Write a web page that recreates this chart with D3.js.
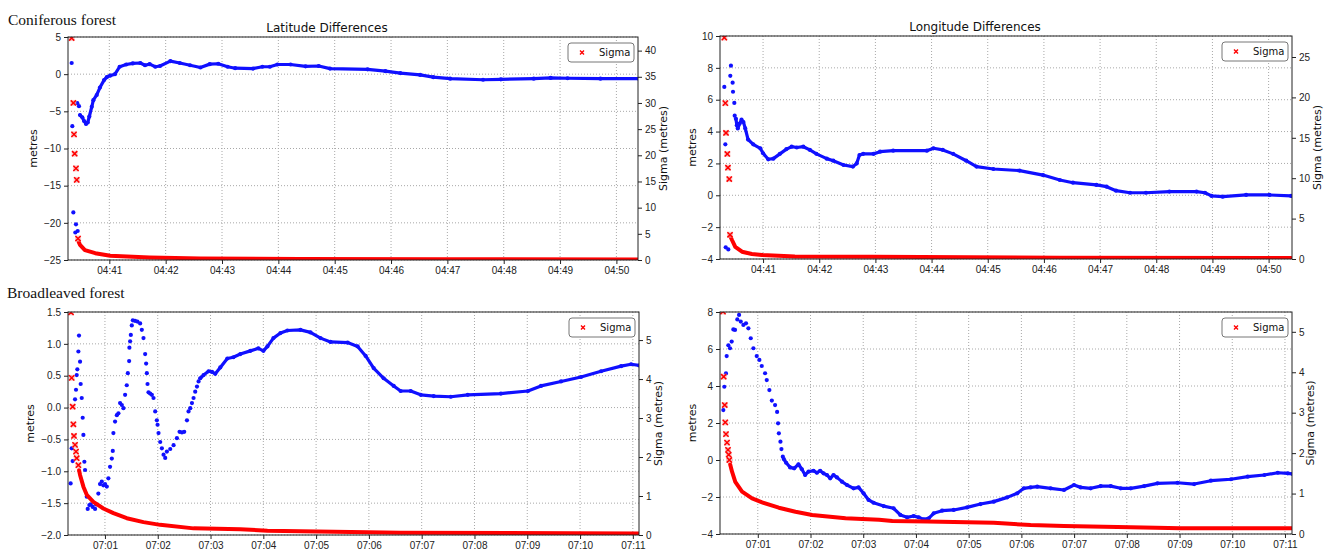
<!DOCTYPE html>
<meta charset="utf-8">
<style>
body { margin: 0; background: #fff; }
svg { font-family: "DejaVu Sans", sans-serif; }
.grid line { stroke: #a8a8a8; stroke-width: 1px; stroke-dasharray: 1,2; }
.axis text { font-size: 10px; fill: #222; }
.axis line { stroke: #222; }
.axis path { display: none; }
.frame { fill: none; stroke: #222; stroke-width: 1px; }
.title { font-size: 12px; fill: #111; }
.label { font-size: 11px; fill: #111; }
.section { font-family: "Liberation Serif", serif; font-size: 15.5px; fill: #111; }
.legend rect { fill: #fff; stroke: #777; stroke-width: 1px; }
.legend text { font-size: 10px; fill: #111; }
</style>
<body>
<script src="https://d3js.org/d3.v7.min.js"></script>
<script>

// --- data: [seconds after axis start, value] ---

// Coniferous forest, latitude (metres) and sigma (metres)
var latConBlueDots = [[3.9,1.5],[4.6,-7.0],[5.7,-18.6],[7.8,-21.3],[8.5,-20.2],[10.3,-21.1],
  [9.9,-3.9],[11.7,-4.3]];
var latConBlueTrace = [[12.8,-5.5],[15.2,-5.8],[17.1,-6.3],[19.2,-6.7],[21,-6.5],[22.7,-5.7],
  [25.3,-4.4],[27,-3.5],[30.6,-2.8],[34,-1.8],[38.4,-0.8],[41.3,-0.4],[44.8,-0.2],[50,0.0],
  [55,1.0],[62,1.3],[69,1.45],[77,1.5],[82,1.2],[87,1.35],[93,1.0],[98,1.1],[109,1.75],
  [119,1.5],[130,1.2],[141,0.9],[151,1.35],[160,1.4],[170,1.0],[178,0.8],[197,0.75],
  [207,1.0],[215,1.0],[223,1.3],[237,1.3],[253,1.05],[267,1.1],[279,0.75],[319,0.65],
  [338,0.4],[354,0.15],[375,-0.1],[389,-0.4],[407,-0.6],[442,-0.75],[461,-0.7],[496,-0.6],
  [514,-0.5],[532,-0.55],[567,-0.6],[608,-0.6]];
var latConSigmaDots = [[3.9,42.4],[5.7,30.0],[6.4,24.0],[7.1,20.3],[8.5,17.5],[9.3,15.3],
  [10.7,4.1]];
var latConSigmaTrace = [[11.5,3.4],[12.8,2.9],[18,1.9],[29,1.3],[45,0.8],[87,0.5],[141,0.3],
  [247,0.2],[400,0.15],[608,0.1]];

// Coniferous forest, longitude
var lonConBlueDots = [[4.6,6.8],[5.7,3.2],[6.1,-3.27],[8.9,-3.4],[11,7.5],[11.7,8.14],
  [13.5,7.07],[13.9,6.5],[15.3,5.8],[15.7,5.0]];
var lonConBlueTrace = [[17,4.8],[18,4.4],[19,4.2],[21,4.5],[23,4.75],[25,4.6],[27,4.2],
  [30,3.5],[35.5,3.2],[43,2.95],[46,2.64],[51.5,2.26],[57,2.3],[64,2.6],[71,2.9],[76.5,3.05],
  [82,3.0],[89,3.05],[96,2.85],[103,2.6],[114,2.3],[121,2.17],[132,1.9],[142,1.8],[146,2.0],
  [149,2.53],[153,2.6],[164,2.6],[171,2.74],[185,2.8],[221,2.8],[228,2.95],[238,2.85],
  [249,2.6],[263,2.17],[274,1.8],[292,1.65],[320,1.55],[345,1.27],[363,0.96],[377,0.79],
  [402,0.65],[413,0.54],[423,0.29],[438,0.16],[455,0.16],[480,0.23],[509,0.23],[518,0.16],
  [525,-0.04],[537,-0.09],[562,0.02],[587,0.02],[610,-0.04]];
var lonConSigmaDots = [[4.6,27.4],[5.7,19.3],[6.4,15.6],[7.8,13.0],[8.5,11.3],[9.9,9.9],
  [10.7,3.0]];
var lonConSigmaTrace = [[11.5,2.7],[12.8,2.35],[16.3,1.5],[23.5,0.9],[34,0.62],[44.8,0.5],
  [80,0.3],[163,0.28],[363,0.16],[610,0.12]];

// Broadleaved forest, latitude
var latBroBlueDots = [[3.0,-1.19],[4.2,-0.64],[5.3,-0.84],[8.0,0.13],[9.1,0.28],[9.9,0.51],
  [10.6,0.6],[11.8,0.88],[12.5,1.13],[13.7,0.72],[14.4,0.37],[15.6,0.15],[16.7,-0.16],
  [17.5,-0.43],[18.6,-0.85],[19.4,-0.98],[21.3,-1.4],[22.4,-1.59],[24.3,-1.53],[25.8,-1.52],
  [28.1,-1.56],[30.8,-1.59],[31.9,-1.52],[34.5,-1.35],[36.4,-1.2],[38.4,-1.16],[40.2,-1.22],
  [42.1,-1.2],[44.1,-1.24],[45.9,-1.11],[47.8,-0.93],[49.8,-0.8],[50.9,-0.68],[51.6,-0.4],
  [53.5,-0.22],[55.5,-0.12],[57.3,-0.09],[59.2,0.07],[61.2,0.04],[63,-0.01],[64.9,0.2],
  [66.8,0.35],[68,0.54],[69.5,0.73],[69.8,0.94],[70.6,1.04],[71.4,1.14],[72.5,1.29],
  [73.7,1.37],[76.3,1.36],[78.9,1.35],[82,1.32],[83.9,1.22],[85.8,1.09],[87.7,0.84],
  [88.8,0.69],[89.6,0.54],[90.4,0.37],[91.5,0.24],[93.4,0.22],[95.3,0.2],[97.2,0.15],
  [99.1,-0.06],[101,-0.2],[101.8,-0.27],[102.9,-0.4],[104.8,-0.54],[106.7,-0.64],
  [108.6,-0.74],[110.5,-0.79],[112.4,-0.69],[116.2,-0.65],[120,-0.59],[123.8,-0.48],
  [126.8,-0.38],[129.5,-0.39],[132.1,-0.38],[135.2,-0.2],[137,-0.06],[139,-0.01],
  [140.9,0.07],[142.7,0.15],[144.6,0.25],[146.6,0.33],[148.4,0.41]];
var latBroBlueTrace = [[150.3,0.46],[154.1,0.51],[159.8,0.57],[163.7,0.56],[167.4,0.53],
  [173.1,0.63],[181.1,0.77],[187.9,0.79],[195.9,0.84],[207.3,0.89],[216.4,0.93],[222.1,0.89],
  [226.7,0.96],[233.5,1.09],[241.5,1.17],[249.4,1.21],[264.2,1.22],[275.6,1.18],[287,1.09],
  [298.4,1.03],[317.8,1.02],[329.2,0.96],[338.3,0.81],[347.4,0.62],[358.8,0.46],[370.2,0.34],
  [378.1,0.26],[389.5,0.26],[400.9,0.2],[415.7,0.18],[435.1,0.17],[454.4,0.2],[492,0.22],
  [522.8,0.26],[537.6,0.34],[560.4,0.41],[583.1,0.48],[605.9,0.57],[628.7,0.65],[640,0.68],
  [649.2,0.66]];
var latBroSigmaDots = [[3.4,5.71],[4.2,4.03],[5.3,3.29],[6.1,2.84],[6.8,2.54],[8,2.31],
  [9.1,2.14],[9.9,1.97],[11.8,1.79]];
var latBroSigmaTrace = [[12.6,1.66],[13.7,1.54],[17.5,1.24],[21.3,1.03],[28.8,0.85],[40.2,0.68],
  [51.6,0.56],[66.8,0.43],[85.8,0.33],[104.8,0.26],[142.7,0.17],[195.9,0.15],[226.7,0.11],
  [378.1,0.06],[649,0.04]];

// Broadleaved forest, longitude
var lonBroBlueDots = [[3.8,2.7],[4.9,3.96],[6.8,4.68],[7.6,5.62],[9.5,6.2],[11.4,6.04],
  [13.3,6.4],[15.2,7.06],[17.1,7.03],[19.7,7.6],[21.7,7.84],[23.6,7.48],[26.6,7.3],
  [29.6,7.39],[32.3,7.12],[35,6.58],[38,6.04],[41.8,5.62],[44.8,5.41],[47.5,5.08],
  [51.3,4.69],[53.2,4.32],[56.2,3.78],[59,3.21],[62.7,2.97],[65,2.6],[66.1,1.98],[67,1.44],
  [68.8,0.99],[69.9,0.59],[71.5,0.18]];
var lonBroBlueTrace = [[72.6,0.05],[75.3,-0.15],[79.8,-0.4],[84.4,-0.45],[89.3,-0.23],
  [93.2,-0.5],[96.9,-0.81],[100.7,-0.63],[106.4,-0.58],[110.3,-0.69],[114,-0.58],
  [117.8,-0.72],[121.7,-0.81],[125.4,-0.99],[129.2,-0.81],[133.1,-0.94],[138.8,-1.17],
  [144.5,-1.35],[152,-1.53],[157.7,-1.48],[163.4,-1.8],[169.1,-2.16],[174.8,-2.31],
  [186.2,-2.49],[197.6,-2.61],[205.2,-2.97],[212.9,-3.1],[220.4,-3.03],[226.1,-3.1],
  [231.8,-3.21],[237.5,-3.15],[243.2,-2.88],[252.8,-2.74],[266,-2.7],[281.3,-2.56],
  [296.5,-2.38],[311.6,-2.25],[326.9,-2.02],[338.3,-1.8],[345.8,-1.53],[353.5,-1.48],
  [361.1,-1.44],[376.3,-1.53],[391.5,-1.62],[402.9,-1.35],[410.5,-1.48],[421.9,-1.53],
  [433.3,-1.41],[444.7,-1.41],[456.1,-1.53],[467.5,-1.53],[482.7,-1.41],[497.9,-1.26],
  [520.7,-1.23],[539.7,-1.3],[558.7,-1.12],[581.5,-1.04],[600.6,-0.9],[619.5,-0.81],
  [634.8,-0.69],[646.2,-0.72],[651.9,-0.76]];
var lonBroSigmaDots = [[3.4,5.5],[4.2,3.89],[5.4,3.19],[6,2.76],[6.8,2.47],[8,2.26],
  [9.1,2.08],[9.9,1.96],[10.6,1.83]];
var lonBroSigmaTrace = [[11.6,1.72],[13.7,1.54],[17.4,1.29],[25.1,1.05],[36.5,0.88],[47.9,0.78],
  [66.9,0.65],[85.9,0.55],[104.9,0.47],[142.9,0.39],[181,0.35],[196.1,0.32],[235.7,0.31],
  [311.6,0.28],[353.5,0.22],[391.5,0.2],[467.5,0.17],[524.5,0.14],[651.9,0.14]];

// tick values
var latConTicks = [-25, -20, -15, -10, -5, 0, 5];
var latConSigmaTicks = [0, 5, 10, 15, 20, 25, 30, 35, 40];
var lonConTicks = [-4, -2, 0, 2, 4, 6, 8, 10];
var lonConSigmaTicks = [0, 5, 10, 15, 20, 25];
var latBroTicks = [-2.0, -1.5, -1.0, -0.5, 0.0, 0.5, 1.0, 1.5];
var latBroSigmaTicks = [0, 1, 2, 3, 4, 5];
var lonBroTicks = [-4, -2, 0, 2, 4, 6, 8];
var lonBroSigmaTicks = [0, 1, 2, 3, 4, 5];

var parseTime = d3.timeParse("%H:%M:%S");

var panels = [
  { left: 68, top: 37, width: 570, height: 223, title: "Latitude Differences", titleX: 327,
    xDomain: ["04:40:16", "04:50:23"], yDomain: [-25, 5], sDomain: [0, 42.6],
    yTicks: latConTicks, sTicks: latConSigmaTicks, yFormat: "d",
    yLabelX: 33, sLabelX: 663,
    blueDots: latConBlueDots, blueTrace: latConBlueTrace,
    sigmaDots: latConSigmaDots, sigmaTrace: latConSigmaTrace },
  { left: 720, top: 36, width: 572, height: 223, title: "Longitude Differences", titleX: 975,
    xDomain: ["04:40:14", "04:50:25"], yDomain: [-4, 10], sDomain: [0, 27.6],
    yTicks: lonConTicks, sTicks: lonConSigmaTicks, yFormat: "d",
    yLabelX: 692, sLabelX: 1317,
    blueDots: lonConBlueDots, blueTrace: lonConBlueTrace,
    sigmaDots: lonConSigmaDots, sigmaTrace: lonConSigmaTrace },
  { left: 68, top: 312, width: 571, height: 223, title: null,
    xDomain: ["07:00:18", "07:11:07"], yDomain: [-2, 1.5], sDomain: [0, 5.72],
    yTicks: latBroTicks, sTicks: latBroSigmaTicks, yFormat: ".1f",
    yLabelX: 30, sLabelX: 658,
    blueDots: latBroBlueDots, blueTrace: latBroBlueTrace,
    sigmaDots: latBroSigmaDots, sigmaTrace: latBroSigmaTrace },
  { left: 720, top: 312, width: 572, height: 222, title: null,
    xDomain: ["07:00:17", "07:11:08"], yDomain: [-4, 8], sDomain: [0, 5.49],
    yTicks: lonBroTicks, sTicks: lonBroSigmaTicks, yFormat: "d",
    yLabelX: 692, sLabelX: 1310,
    blueDots: lonBroBlueDots, blueTrace: lonBroBlueTrace,
    sigmaDots: lonBroSigmaDots, sigmaTrace: lonBroSigmaTrace }
];

var svg = d3.select("body").append("svg")
    .attr("width", 1331)
    .attr("height", 552);

svg.append("text").attr("class", "section").attr("x", 8).attr("y", 25).text("Coniferous forest");
svg.append("text").attr("class", "section").attr("x", 7).attr("y", 298).text("Broadleaved forest");

var xMark = "M-2.6,-2.6L2.6,2.6M-2.6,2.6L2.6,-2.6";

panels.forEach(function(p, i) {
  var t0 = parseTime(p.xDomain[0]),
      t1 = parseTime(p.xDomain[1]);
  var x = d3.scaleTime().domain([t0, t1]).range([0, p.width]);
  var y = d3.scaleLinear().domain(p.yDomain).range([p.height, 0]);
  var s = d3.scaleLinear().domain(p.sDomain).range([p.height, 0]);
  var px = function(d) { return x(new Date(t0.getTime() + d[0] * 1000)); };

  var g = svg.append("g").attr("transform", "translate(" + p.left + "," + p.top + ")");

  g.append("clipPath").attr("id", "clip" + i)
    .append("rect").attr("width", p.width).attr("height", p.height);

  // grid
  var grid = g.append("g").attr("class", "grid");
  grid.selectAll(".vx").data(x.ticks(d3.timeMinute.every(1))).enter().append("line")
      .attr("x1", function(d) { return x(d); }).attr("x2", function(d) { return x(d); })
      .attr("y1", 0).attr("y2", p.height);
  grid.selectAll(".hy").data(p.yTicks).enter().append("line")
      .attr("x1", 0).attr("x2", p.width)
      .attr("y1", function(d) { return y(d); }).attr("y2", function(d) { return y(d); });

  var plot = g.append("g").attr("clip-path", "url(#clip" + i + ")");

  // metres series (left axis)
  plot.append("path")
      .datum(p.blueTrace)
      .attr("fill", "none")
      .attr("stroke", "#1010ff")
      .attr("stroke-width", 3.2)
      .attr("stroke-linejoin", "round")
      .attr("stroke-linecap", "round")
      .attr("d", d3.line().x(px).y(function(d) { return y(d[1]); }));
  plot.selectAll(".bdot").data(p.blueDots.concat(p.blueTrace)).enter().append("circle")
      .attr("cx", px)
      .attr("cy", function(d) { return y(d[1]); })
      .attr("r", 2.1)
      .attr("fill", "#1010ff");

  // sigma series (right axis)
  plot.append("path")
      .datum(p.sigmaTrace)
      .attr("fill", "none")
      .attr("stroke", "#ff0000")
      .attr("stroke-width", 4)
      .attr("stroke-linejoin", "round")
      .attr("stroke-linecap", "round")
      .attr("d", d3.line().x(px).y(function(d) { return s(d[1]); }));
  var marks = plot.selectAll(".sdot").data(p.sigmaDots).enter().append("g")
      .attr("transform", function(d) { return "translate(" + px(d) + "," + s(d[1]) + ")"; });
  marks.append("rect").attr("x", -3).attr("y", -3).attr("width", 6).attr("height", 6)
      .attr("fill", "#f6b4b4").attr("opacity", 0.7);
  marks.append("path").attr("d", xMark).attr("stroke", "#ff0000").attr("stroke-width", 1.5);

  // frame and axes
  g.append("rect").attr("class", "frame").attr("width", p.width).attr("height", p.height);

  g.append("g").attr("class", "axis")
      .call(d3.axisLeft(y).tickValues(p.yTicks).tickFormat(d3.format(p.yFormat))
        .tickSize(4).tickPadding(3));
  g.append("g").attr("class", "axis")
      .attr("transform", "translate(" + p.width + ",0)")
      .call(d3.axisRight(s).tickValues(p.sTicks).tickFormat(d3.format("d"))
        .tickSize(4).tickPadding(3));
  g.append("g").attr("class", "axis")
      .attr("transform", "translate(0," + p.height + ")")
      .call(d3.axisBottom(x).ticks(d3.timeMinute.every(1)).tickFormat(d3.timeFormat("%H:%M"))
        .tickSize(4).tickPadding(3));

  // legend
  var lg = g.append("g").attr("class", "legend")
      .attr("transform", "translate(" + (p.width - 70) + ",6)");
  lg.append("rect").attr("width", 66).attr("height", 19).attr("rx", 3);
  var lm = lg.append("g").attr("transform", "translate(14,9.5)");
  lm.append("path").attr("d", "M-2,-2L2,2M-2,2L2,-2").attr("stroke", "#ff0000").attr("stroke-width", 1.4);
  lg.append("text").attr("x", 31).attr("y", 13).text("Sigma");

  // labels
  if (p.title) {
    svg.append("text").attr("class", "title").attr("x", p.titleX).attr("y", p.top - 5)
        .attr("text-anchor", "middle").text(p.title);
  }
  var cy = p.top + p.height / 2;
  svg.append("text").attr("class", "label")
      .attr("transform", "translate(" + p.yLabelX + "," + cy + ") rotate(-90)")
      .attr("text-anchor", "middle").attr("dy", "0.35em").text("metres");
  svg.append("text").attr("class", "label")
      .attr("transform", "translate(" + p.sLabelX + "," + cy + ") rotate(-90)")
      .attr("text-anchor", "middle").attr("dy", "0.35em").text("Sigma (metres)");
});

</script>
